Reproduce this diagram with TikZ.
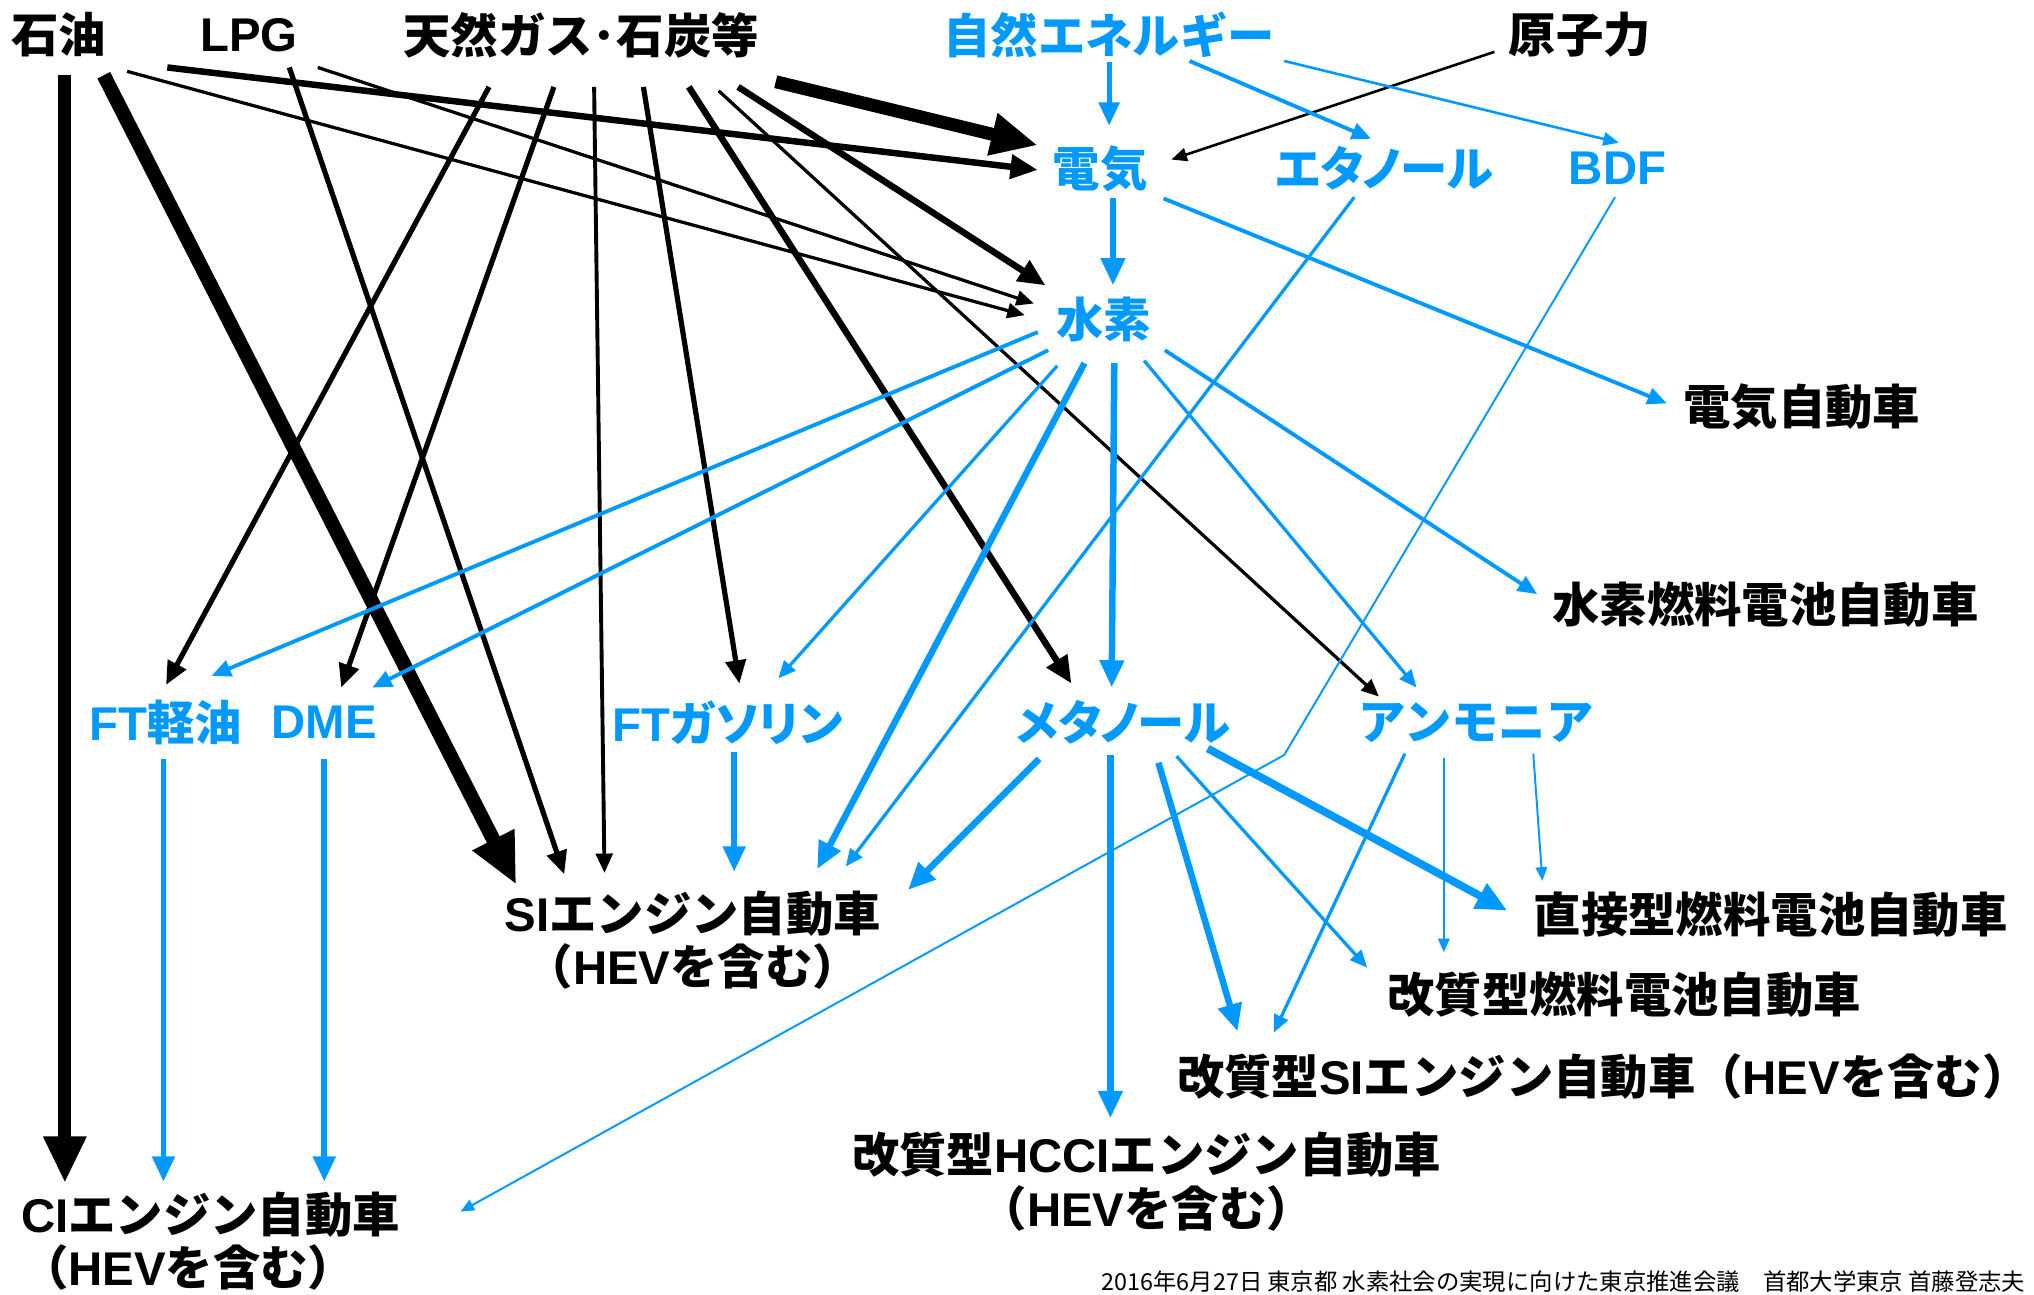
\documentclass[tikz,border=0pt]{standalone}
\usepackage{fontspec}
\setmainfont{Liberation Sans}
\newfontfamily\jpf{Noto Sans CJK JP}
\newfontfamily\jpp{Noto Sans CJK JP}[RawFeature=+palt]
\newcommand\J[1]{{\jpf #1}}
\newcommand\JP[1]{{\jpp #1}}
\usetikzlibrary{arrows.meta}
\definecolor{sky}{RGB}{0,153,255}
\tikzset{
  lbl/.style={inner sep=0pt, font=\bfseries\fontsize{36.5}{41}\selectfont},
  src/.style={lbl, text=black},
  blu/.style={lbl, text=sky},
  car/.style={lbl, text=black, align=center},
  con/.style={-{Triangle[length=6pt 3, width=5pt 2.6]}},
  kb/.style={con, draw=black},
  sb/.style={con, draw=sky},
}
\begin{document}
\begin{tikzpicture}[x=1pt,y=-1pt]
\useasboundingbox (0,0) rectangle (1568,998);
% sources
\node[src] (sekiyu) at (45,27) {\J{石油}};
\node[src] (lpg) at (192,27) {LPG};
\node[src] (tennen) at (448,27) {\J{天然ガス･石炭等}};
\node[blu] (shizen) at (855,27) {\J{自然エネルギー}};
\node[src] (genshi) at (1218,27) {\J{原子力}};
% intermediates
\node[blu] (denki) at (848,130) {\J{電気}};
\node[blu] (ethanol) at (1067,130) {\JP{エタノール}};
\node[blu] (bdf) at (1247,130) {BDF};
\node[blu] (suiso) at (851,246) {\J{水素}};
\node[blu] (ftd) at (128,557) {FT\J{軽油}};
\node[blu] (dme) at (250,557) {DME};
\node[blu] (ftg) at (561,557) {FT\JP{ガソリン}};
\node[blu] (meth) at (866,557) {\JP{メタノール}};
\node[blu] (amm) at (1138,557) {\J{アンモニア}};
% vehicles
\node[src] (ev) at (1389,314) {\J{電気自動車}};
\node[src] (fcv) at (1361,466) {\J{水素燃料電池自動車}};
\node[car] (si) at (534,725) {SI\J{エンジン自動車}\\\J{（}HEV\J{を含む）}};
\node[src] (dfc) at (1365,705) {\J{直接型燃料電池自動車}};
\node[src] (rfc) at (1252,767) {\J{改質型燃料電池自動車}};
\node[src] (rsi) at (1236,830) {\J{改質型}SI\J{エンジン自動車（}HEV\J{を含む）}};
\node[car] (hcci) at (884,911) {\J{改質型}HCCI\J{エンジン自動車}\\\J{（}HEV\J{を含む）}};
\node[src, align=left, anchor=west] (ci) at (16,957) {CI\J{エンジン自動車}\\\J{（}HEV\J{を含む）}};
% footer
\node[anchor=base west, inner sep=0pt, font=\jpf\fontsize{18}{18}\selectfont] (note) at (849,995) {2016年6月27日 東京都 水素社会の実現に向けた東京推進会議　首都大学東京 首藤登志夫};
\coordinate (bend) at (990,582);

% black connectors
\draw[kb, line width=10pt] ([shift={(5,31)}]sekiyu.center) -- ([shift={(34,-45)}]ci.west);
\draw[kb, line width=11pt] ([shift={(35,31)}]sekiyu.center) -- ([shift={(-136,-43)}]si.center);
\draw[kb, line width=2.5pt] ([shift={(53,28)}]sekiyu.center) -- ([shift={(-61,-3)}]suiso.center);
\draw[kb, line width=5pt] ([shift={(84,25)}]sekiyu.center) -- ([shift={(-48,1)}]denki.center);
\draw[kb, line width=4pt] ([shift={(31,25)}]lpg.center) -- ([shift={(-99,-51)}]si.center);
\draw[kb, line width=2.5pt] ([shift={(53,25)}]lpg.center) -- ([shift={(-54,-12)}]suiso.center);
\draw[kb, line width=4pt] ([shift={(-71,40)}]tennen.center) -- ([shift={(0,-29)}]ftd.center);
\draw[kb, line width=4pt] ([shift={(-21,40)}]tennen.center) -- ([shift={(13,-27)}]dme.center);
\draw[kb, line width=3pt] ([shift={(10,40)}]tennen.center) -- ([shift={(-68,-52)}]si.center);
\draw[kb, line width=4pt] ([shift={(48,40)}]tennen.center) -- ([shift={(9,-30)}]ftg.center);
\draw[kb, line width=5pt] ([shift={(83,40)}]tennen.center) -- ([shift={(-40,-30)}]meth.center);
\draw[kb, line width=2.5pt] ([shift={(106,43)}]tennen.center) -- ([shift={(-75,-20)}]amm.center);
\draw[kb, line width=5pt] ([shift={(121,40)}]tennen.center) -- ([shift={(-45,-26)}]suiso.center);
\draw[kb, line width=10pt] ([shift={(150,36)}]tennen.center) -- ([shift={(-48,-18)}]denki.center);
\draw[kb, line width=2pt] ([shift={(-66,13)}]genshi.center) -- ([shift={(55,-7)}]denki.center);

% blue connectors
\draw[sb, line width=4pt] ([shift={(0,21)}]shizen.center) -- ([shift={(7,-33)}]denki.center);
\draw[sb, line width=3pt] ([shift={(62,20)}]shizen.center) -- ([shift={(-10,-23)}]ethanol.center);
\draw[sb, line width=2pt] ([shift={(135,20)}]shizen.center) -- ([shift={(1,-20)}]bdf.center);
\draw[sb, line width=5pt] ([shift={(10,23)}]denki.center) -- ([shift={(7,-26)}]suiso.center);
\draw[sb, line width=3pt] ([shift={(49,23)}]denki.center) -- ([shift={(-104,-3)}]ev.center);
\draw[sb, line width=2.5pt] ([shift={(-23,22)}]ethanol.center) -- ([shift={(118,-57)}]si.center);
\draw[sb, line width=1.5pt] ([shift={(-2,22)}]bdf.center) -- (bend) -- ([shift={(339,-23)}]ci.west);
\draw[sb, line width=3pt] ([shift={(-51,10)}]suiso.center) -- ([shift={(35,-36)}]ftd.center);
\draw[sb, line width=3pt] ([shift={(-43,24)}]suiso.center) -- ([shift={(37,-27)}]dme.center);
\draw[sb, line width=2.5pt] ([shift={(-36,36)}]suiso.center) -- ([shift={(39,-34)}]ftg.center);
\draw[sb, line width=5pt] ([shift={(-15,34)}]suiso.center) -- ([shift={(96,-55)}]si.center);
\draw[sb, line width=5pt] ([shift={(8,34)}]suiso.center) -- ([shift={(-9,-27)}]meth.center);
\draw[sb, line width=2.5pt] ([shift={(31,32)}]suiso.center) -- ([shift={(-46,-27)}]amm.center);
\draw[sb, line width=3pt] ([shift={(47,24)}]suiso.center) -- ([shift={(-176,-8)}]fcv.center);
\draw[sb, line width=4.5pt] ([shift={(-2,28)}]ftd.center) -- ([shift={(110,-46)}]ci.west);
\draw[sb, line width=4.5pt] ([shift={(0,28)}]dme.center) -- ([shift={(234,-46)}]ci.west);
\draw[sb, line width=4.5pt] ([shift={(5,23)}]ftg.center) -- ([shift={(32,-53)}]si.center);
\draw[sb, line width=5pt] ([shift={(-65,28)}]meth.center) -- ([shift={(166,-39)}]si.center);
\draw[sb, line width=5pt] ([shift={(-10,25)}]meth.center) -- ([shift={(-28,-49)}]hcci.center);
\draw[sb, line width=5pt] ([shift={(27,31)}]meth.center) -- ([shift={(-282,-35)}]rsi.center);
\draw[sb, line width=2.5pt] ([shift={(41,26)}]meth.center) -- ([shift={(-198,-21)}]rfc.center);
\draw[sb, line width=6pt] ([shift={(65,20)}]meth.center) -- ([shift={(-203,-3)}]dfc.center);
\draw[sb, line width=2.5pt] ([shift={(-55,24)}]amm.center) -- ([shift={(-254,-34)}]rsi.center);
\draw[sb, line width=1.5pt] ([shift={(-25,27)}]amm.center) -- ([shift={(-139,-33)}]rfc.center);
\draw[sb, line width=1.5pt] ([shift={(44,24)}]amm.center) -- ([shift={(-176,-26)}]dfc.center);
\end{tikzpicture}
\end{document}
